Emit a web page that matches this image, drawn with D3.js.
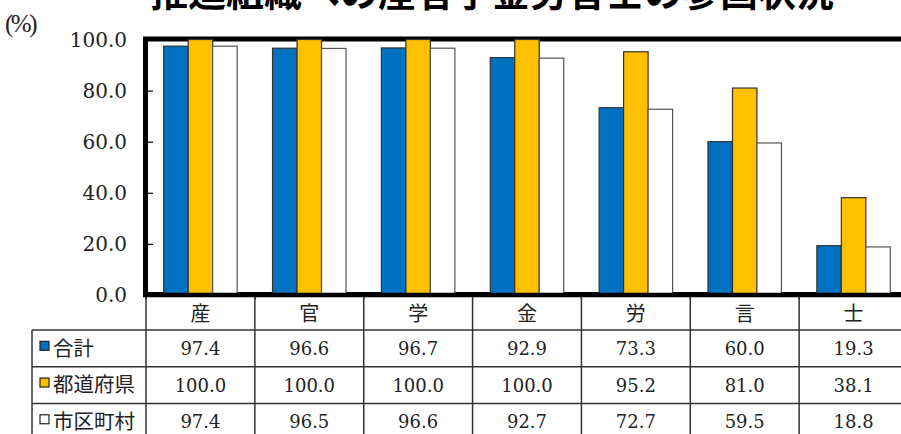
<!DOCTYPE html>
<html><head><meta charset="utf-8">
<script src="https://cdn.jsdelivr.net/npm/d3@7"></script>
<style>
html,body{margin:0;padding:0;background:#fff;overflow:hidden;}
svg{display:block;}
</style></head>
<body>
<svg id="c" width="901" height="434"></svg>
<script>
const title = "推進組織への産官学金労言士の参画状況";
const categories = ["産","官","学","金","労","言","士"];
const seriesNames = ["合計","都道府県","市区町村"];
const totalValues = [97.4,96.6,96.7,92.9,73.3,60.0,19.3];
const prefValues = [100.0,100.0,100.0,100.0,95.2,81.0,38.1];
const muniValues = [97.4,96.5,96.6,92.7,72.7,59.5,18.8];
const yTicks = [0,20,40,60,80,100];
const seriesColors = ["#0070C0","#FFC000","#FFFFFF"];

(function(){
const seriesValues = [totalValues, prefValues, muniValues];
const svg = d3.select("#c");
const serif = "'DejaVu Serif','Liberation Serif',serif";
const pctFont = "'Liberation Serif','DejaVu Serif',serif";
const cjk = "'Noto Sans CJK JP',sans-serif";

const pL = 146, pR = 908, pT = 39.5, pB = 295;
const x0 = d3.scaleBand().domain(categories).range([pL, pR]).paddingInner(0).paddingOuter(0);
const bw = x0.bandwidth();
const groupW = bw * 0.675;
const x1 = d3.scaleBand().domain(seriesNames).range([(bw-groupW)/2, (bw+groupW)/2]).padding(0);
const y = d3.scaleLinear().domain([0,100]).range([pB, pT]);

// title (cut off at top, as in the reference)
svg.append("text").attr("x", 492).attr("y", 6).attr("text-anchor","middle")
  .attr("font-family", cjk).attr("font-weight","bold")
  .attr("font-size", 38).attr("fill","#000").text(title);

// (%)
svg.append("text").attr("x", 5).attr("y", 32).attr("font-family", pctFont)
  .attr("font-size", 25).attr("letter-spacing", -2.5).attr("fill","#222").text("(%)");

// frame
svg.append("rect").attr("x", pL-0.5).attr("y", pT-0.5).attr("width", pR-pL+20).attr("height", pB-pT)
  .attr("fill","none").attr("stroke","#000").attr("stroke-width",5);

// y axis ticks/labels
const yAxis = d3.axisRight(y).tickValues(yTicks).tickSize(5).tickFormat("");
const ya = svg.append("g").attr("transform",`translate(${pL+2},0)`).call(yAxis);
ya.select(".domain").remove();
ya.selectAll("line").attr("stroke","#000").attr("stroke-width",1.2);
svg.append("g").selectAll("text").data(yTicks).join("text")
  .attr("x", 127).attr("y", d => y(d)).attr("dy","0.36em").attr("text-anchor","end")
  .attr("font-family", serif).attr("font-size", 20).attr("fill","#222")
  .text(d => d3.format(".1f")(d));

// bars
const rows = categories.map((c,i) => ({c, vals: seriesNames.map((s,j) => ({s, j, v: seriesValues[j][i]}))}));
const g = svg.append("g").selectAll("g").data(rows).join("g")
  .attr("transform", d => `translate(${x0(d.c)},0)`);
g.selectAll("rect").data(d => d.vals).join("rect")
  .attr("x", d => x1(d.s)).attr("width", x1.bandwidth())
  .attr("y", d => y(d.v)).attr("height", d => y(0) - y(d.v))
  .attr("fill", d => seriesColors[d.j])
  .attr("stroke", d => d.j === 2 ? "#555" : "#333").attr("stroke-width", 1.2);

// bottom axis line
svg.append("line").attr("x1", pL-3).attr("x2", pR+10).attr("y1", pB).attr("y2", pB)
  .attr("stroke","#000").attr("stroke-width",4.5);

// bottom ticks at category boundaries
const bounds = categories.map(c => x0(c)).concat([pR]);
svg.append("g").selectAll("line").data(bounds).join("line")
  .attr("x1", d => d).attr("x2", d => d).attr("y1", pB).attr("y2", pB+5)
  .attr("stroke","#000").attr("stroke-width",1.2);

// data table
const headTop = 297, rowH = 36.7, row1 = 330;
const tline = svg.append("g").attr("stroke","#333").attr("stroke-width",1.5);
bounds.forEach(b => tline.append("line").attr("x1", b).attr("x2", b).attr("y1", headTop).attr("y2", 434));
tline.append("line").attr("x1", 32).attr("x2", 32).attr("y1", row1).attr("y2", 434);
for (let r = 0; r < 3; r++) {
  tline.append("line").attr("x1", 32).attr("x2", pR+10).attr("y1", row1 + r*rowH).attr("y2", row1 + r*rowH);
}
// header labels
svg.append("g").selectAll("text").data(categories).join("text")
  .attr("x", d => x0(d) + bw/2).attr("y", (headTop+row1)/2).attr("dy","0.36em")
  .attr("text-anchor","middle").attr("font-family", cjk).attr("font-size", 20).attr("fill","#222")
  .text(d => d);
// legend cells
const leg = svg.append("g").selectAll("g").data(seriesNames).join("g")
  .attr("transform", (d,i) => `translate(0,${row1 + i*rowH + rowH/2})`);
leg.append("rect").attr("x", 40).attr("y", -7).attr("width", 9).attr("height", 9)
  .attr("fill", (d,i) => seriesColors[i]).attr("stroke","#222").attr("stroke-width",1.2);
leg.append("text").attr("x", 53).attr("y", 0).attr("dy","0.36em")
  .attr("font-family", cjk).attr("font-size", 20.5).attr("fill","#222").text(d => d);
// value cells
seriesNames.forEach((s,j) => {
  svg.append("g").selectAll("text").data(categories).join("text")
    .attr("x", d => x0(d) + bw/2).attr("y", row1 + j*rowH + rowH/2).attr("dy","0.36em")
    .attr("text-anchor","middle").attr("font-family", serif).attr("font-size", 18).attr("fill","#222")
    .text((d,i) => d3.format(".1f")(seriesValues[j][i]));
});
})();
</script>
</body></html>
